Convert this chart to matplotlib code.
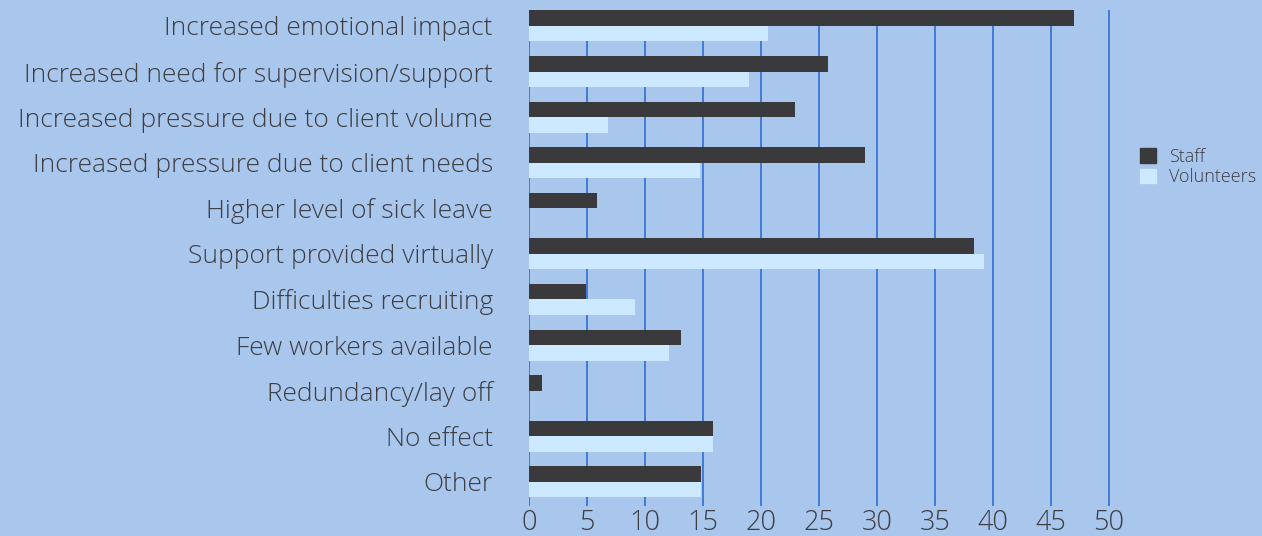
import numpy as np
import matplotlib.pyplot as plt
from matplotlib.patches import Patch

categories = [
    "Increased emotional impact",
    "Increased need for supervision/support",
    "Increased pressure due to client volume",
    "Increased pressure due to client needs",
    "Higher level of sick leave",
    "Support provided virtually",
    "Difficulties recruiting",
    "Few workers available",
    "Redundancy/lay off",
    "No effect",
    "Other",
]
staff = [47.0, 25.8, 22.9, 29.0, 5.9, 38.4, 4.9, 13.1, 1.1, 15.9, 14.8]
volunteers = [20.6, 19.0, 6.8, 14.7, 0.0, 39.2, 9.1, 12.1, 0.0, 15.9, 14.8]
xticks = [0, 5, 10, 15, 20, 25, 30, 35, 40, 45, 50]

bg = "#A9C6EC"
staff_col = "#3A3A3C"
vol_col = "#CCE9FF"
grid_col = "#2F6FD6"
text_col = "#3D3D42"

plt.rcParams['font.family'] = ['Open Sans', 'DejaVu Sans']

fig = plt.figure(figsize=(12.62, 5.36), dpi=100, facecolor=bg)
ax = fig.add_axes([529 / 1262, 1 - 506 / 536, 583.5 / 1262, 496 / 536])
ax.set_facecolor(bg)

y = np.arange(len(categories))
h = 0.34
ax.barh(y - h / 2, staff, height=h, color=staff_col, zorder=3)
ax.barh(y + h / 2, volunteers, height=h, color=vol_col, zorder=3)

ax.set_xlim(0, 50.3)
ax.set_ylim(10.53, -0.35)
ax.set_xticks(xticks)
ax.set_xticklabels([str(t) for t in xticks], fontsize=19.5, color=text_col, fontweight='light')
ax.set_yticks(y)
ax.set_yticklabels(categories, fontsize=19, color=text_col, fontweight='light')
ax.tick_params(axis='both', length=0)
ax.tick_params(axis='y', pad=26)
ax.tick_params(axis='x', pad=2)
ax.grid(axis='x', color=grid_col, linewidth=1.2, zorder=0)
ax.set_axisbelow(True)
for s in ax.spines.values():
    s.set_visible(False)

handles = [Patch(color=staff_col, label="Staff"), Patch(color=vol_col, label="Volunteers")]
fig.legend(handles=handles, loc='center left', bbox_to_anchor=(1124 / 1262, 1 - 167 / 536),
           frameon=False, labelcolor=text_col, handlelength=0.85,
           handleheight=0.85, handletextpad=0.75, labelspacing=0.15,
           prop={'size': 13, 'weight': 'light'})

fig.savefig("out.png", dpi=100, facecolor=bg)
